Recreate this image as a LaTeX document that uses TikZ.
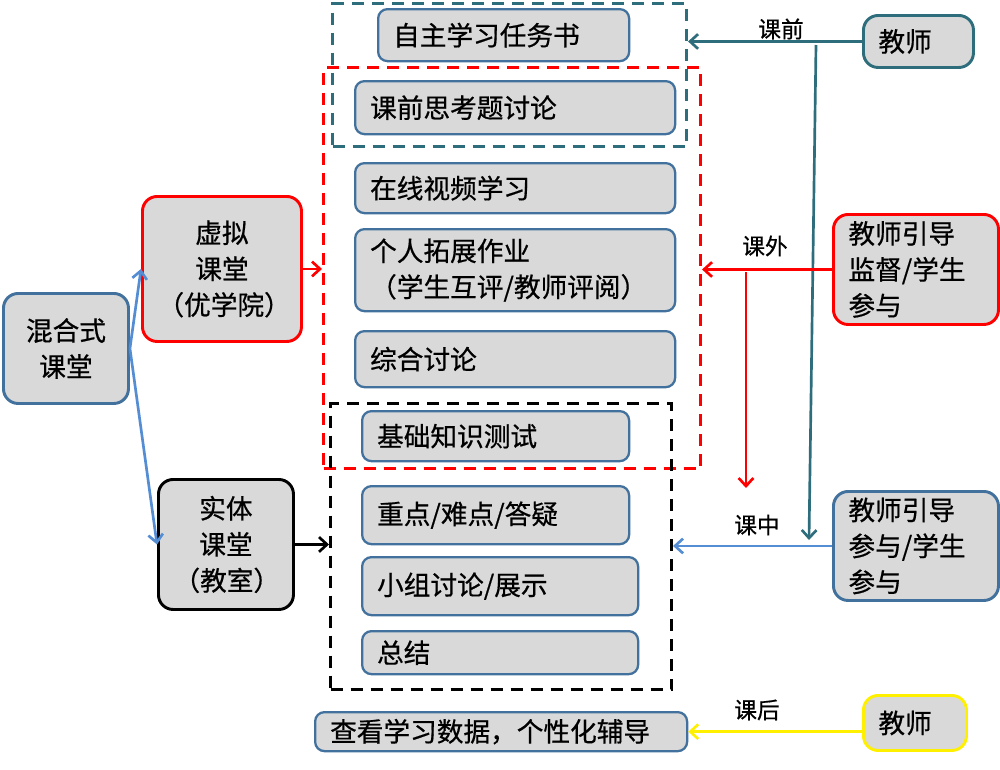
\documentclass[tikz,border=0pt]{standalone}
\usepackage{fontspec}
\newfontfamily\cjk[FakeBold=0.6]{Noto Sans CJK SC}
\usetikzlibrary{arrows.meta}
\definecolor{boxgray}{RGB}{217,217,217}
\definecolor{boxblue}{RGB}{65,113,156}
\definecolor{tealc}{RGB}{46,110,124}
\definecolor{arrblue}{RGB}{84,141,212}
\definecolor{yelc}{RGB}{255,240,0}
\newcommand\placebox[7]{%
  \pgfmathsetmacro\bw{(#5-#3-30)*0.75}%
  \pgfmathsetmacro\bh{(#6-#4)*0.75}%
  \node[#2, anchor=north west, text width=\bw pt, minimum height=\bh pt] (#1) at (#3,#4) {#7};}
\tikzset{
  txt/.style={font=\cjk\fontsize{20}{27}\selectfont, text=black},
  inbox/.style={txt, draw=boxblue, fill=boxgray, line width=1.7pt, rounded corners=7pt, inner xsep=11.25pt, inner ysep=0pt, align=left},
  sidebox/.style={txt, fill=boxgray, line width=2.2pt, rounded corners=11pt, inner xsep=11.25pt, inner ysep=0pt},
  grp/.style={line width=2.3pt, dash pattern=on 9pt off 6pt, inner sep=0pt},
  conn/.style={line width=2pt, -{Straight Barb[length=6pt,width=11pt]}},
  lbl/.style={font=\cjk\fontsize{17}{19}\selectfont, text=black, inner sep=0pt},
}
\begin{document}
\begin{tikzpicture}[x=0.75pt, y=-0.75pt]
\useasboundingbox[fill=white] (0,0) rectangle (1000,769);

% dashed groups
\node[grp, draw=tealc, anchor=north west, minimum width=354*0.75pt, minimum height=143*0.75pt] (tealgrp) at (331,2) {};
\node[grp, draw=red, anchor=north west, minimum width=377*0.75pt, minimum height=401*0.75pt] (redgrp) at (322,66) {};
\node[grp, draw=black, anchor=north west, minimum width=341*0.75pt, minimum height=286*0.75pt] (blkgrp) at (329,402) {};

% inner boxes
\placebox{task}{inbox}{377}{8}{628}{60}{自主学习任务书}
\placebox{think}{inbox}{354}{80}{674}{133}{课前思考题讨论}
\placebox{video}{inbox}{354}{162}{674}{212}{在线视频学习}
\placebox{hw}{inbox}{354}{228}{674}{310}{个人拓展作业\\（学生互评/教师评阅）}
\placebox{disc}{inbox}{354}{330}{674}{386}{综合讨论}
\placebox{test}{inbox}{361}{410}{628}{460}{基础知识测试}
\placebox{keyq}{inbox}{361}{485}{628}{543}{重点/难点/答疑}
\placebox{grpd}{inbox}{361}{556}{637}{614}{小组讨论/展示}
\placebox{summ}{inbox}{361}{630}{637}{673}{总结}
\placebox{data}{inbox}{314}{711}{686}{750}{查看学习数据，个性化辅导}

% side boxes
\placebox{mix}{sidebox, draw=boxblue, align=center}{2}{292}{127}{402}{混合式\\课堂}
\placebox{virt}{sidebox, draw=red, align=center}{141}{195}{300}{340}{虚拟\\课堂\\（优学院）}
\placebox{phys}{sidebox, draw=black, align=center}{157}{478}{292}{608}{实体\\课堂\\（教室）}
\placebox{tone}{sidebox, draw=tealc, align=left}{862}{14}{972}{66}{教师}
\placebox{ttwo}{sidebox, draw=red, align=left}{832}{213}{997}{323}{教师引导\\监督/学生\\参与}
\placebox{tthree}{sidebox, draw=boxblue, align=left}{832}{490}{997}{599}{教师引导\\参与/学生\\参与}
\placebox{tfour}{sidebox, draw=yelc, align=left}{862}{694}{965}{749}{教师}

% labels
\node[lbl] (lpre) at (781,29) {课前};
\node[lbl] (lout) at (765,246) {课外};
\node[lbl] (lin) at (757,525) {课中};
\node[lbl] (lpost) at (757,710) {课后};

% coordinates for free ends
\coordinate (tva) at (816,45);
\coordinate (tvb) at (809,540);
\coordinate (rva) at (746,272);
\coordinate (rvb) at (746,488);

% connectors
\draw[conn, draw=tealc] (tone.west) -- (tone.west -| tealgrp.east);
\draw[conn, draw=tealc] (tva) -- (tvb);
\draw[conn, draw=red] (ttwo.west) -- (ttwo.west -| redgrp.east);
\draw[conn, draw=red] (rva) -- (rvb);
\draw[conn, draw=arrblue] (tthree.west) -- (tthree.west -| blkgrp.east);
\draw[conn, draw=yelc] (tfour.west |- data.east) -- (data.east);
\draw[conn, draw=arrblue] (mix.east) -- (virt.west);
\draw[conn, draw=arrblue] (mix.east) -- (phys.west);
\draw[conn, draw=red] (virt.east) -- (virt.east -| redgrp.west);
\draw[conn, draw=black] (phys.east) -- (phys.east -| blkgrp.west);
\end{tikzpicture}
\end{document}
